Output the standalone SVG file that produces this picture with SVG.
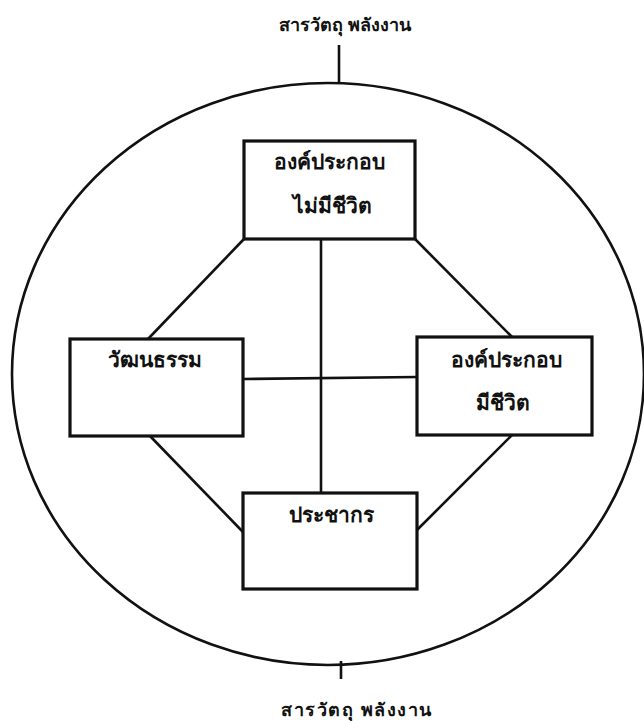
<svg xmlns="http://www.w3.org/2000/svg" width="644" height="721" viewBox="0 0 644 721">
<style>
.box{fill:#fff;stroke:#111;stroke-width:3.2}
.ln{stroke:#111;stroke-width:2.6;fill:none}
.t{font-family:"Noto Sans","DejaVu Sans",sans-serif;font-weight:bold;font-size:21px;fill:#111;text-anchor:middle}
.lbl{font-family:"Noto Sans","DejaVu Sans",sans-serif;font-weight:bold;font-size:18px;fill:#111;text-anchor:middle}
</style>
<rect width="644" height="721" fill="#fff"/>
<g id="system">
<ellipse cx="328" cy="374" rx="316" ry="291" class="ln"/>
</g>
<g id="connectors">
<line x1="339" y1="45" x2="339" y2="83" class="ln" stroke-width="3"/>
<line x1="341" y1="661" x2="341" y2="679" class="ln" stroke-width="3"/>
<line x1="321" y1="239" x2="321" y2="493" class="ln"/>
<line x1="243" y1="379" x2="417" y2="377" class="ln"/>
<line x1="244" y1="239" x2="148" y2="339" class="ln"/>
<line x1="415" y1="239" x2="512" y2="337" class="ln"/>
<line x1="150" y1="436" x2="243" y2="532" class="ln"/>
<line x1="512" y1="435" x2="417" y2="530" class="ln"/>
</g>
<g id="input-label"><text class="lbl" x="345" y="31">สารวัตถุ พลังงาน</text></g>
<g id="output-label"><text class="lbl" x="357" y="716" letter-spacing="1.5">สารวัตถุ พลังงาน</text></g>
<g id="abiotic">
<rect class="box" x="244" y="141" width="171" height="98"/>
<text class="t" x="329" y="169">องค์ประกอบ</text>
<text class="t" x="332" y="213">ไม่มีชีวิต</text>
</g>
<g id="culture">
<rect class="box" x="70" y="339" width="173" height="97"/>
<text class="t" x="155" y="367">วัฒนธรรม</text>
</g>
<g id="biotic">
<rect class="box" x="417" y="337" width="175" height="98"/>
<text class="t" x="506" y="367">องค์ประกอบ</text>
<text class="t" x="503" y="410">มีชีวิต</text>
</g>
<g id="population">
<rect class="box" x="243" y="493" width="174" height="96"/>
<text class="t" x="331" y="522">ประชากร</text>
</g>
</svg>
